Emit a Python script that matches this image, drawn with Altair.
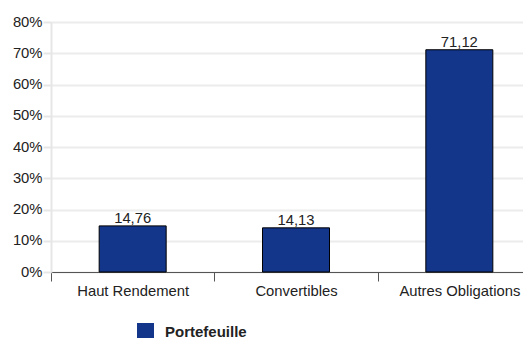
import altair as alt
import pandas as pd

categories = ["Haut Rendement", "Convertibles", "Autres Obligations"]
values = [14.76, 14.13, 71.12]
series = ["Portefeuille", "Portefeuille", "Portefeuille"]
y_ticks = [0, 10, 20, 30, 40, 50, 60, 70, 80]

df = pd.DataFrame({"cat": categories, "val": values, "serie": series})

FONT = "Liberation Sans"
FS = 14.8

x = alt.X("cat:N", sort=categories, title=None,
          scale=alt.Scale(paddingInner=0, paddingOuter=0, range=[0, 490]),
          axis=alt.Axis(labelAngle=0, tickBand="extent", domainColor="#555555",
                        tickColor="#555555", tickSize=9, labelPadding=2,
                        labelFontSize=FS, labelColor="#222222", labelFont=FONT,
                        grid=False))
y = alt.Y("val:Q", title=None,
          scale=alt.Scale(domain=[0, 80], nice=False),
          axis=alt.Axis(values=y_ticks, tickCount=20, labelOverlap=False,
                        labelExpr="datum.value + '%'",
                        gridColor="#ececec", gridWidth=2, domainColor="#e6e6e6",
                        domainWidth=2, tickColor="#e6e6e6", tickWidth=2, tickSize=8,
                        labelPadding=1, labelFontSize=FS, labelColor="#222222",
                        labelFont=FONT))

bars = alt.Chart(df).mark_bar(size=67, color="#13358a", stroke="#000000",
                              strokeWidth=1).encode(
    x=x, y=y,
    color=alt.Color("serie:N", scale=alt.Scale(range=["#13358a"]),
                    legend=alt.Legend(title=None, orient="none", legendX=86,
                                      legendY=301, symbolType="square",
                                      symbolSize=289, symbolStrokeWidth=0,
                                      labelFontSize=15, labelFontWeight="bold",
                                      labelFont=FONT, labelColor="#222222",
                                      labelOffset=11)))

labels = alt.Chart(df).transform_calculate(
    lab="replace(format(datum.val, '.2f'), '.', ',')"
).mark_text(baseline="alphabetic", dy=-3, fontSize=FS, font=FONT,
            color="#222222").encode(x=x, y=y, text="lab:N")

chart = (bars + labels).properties(
    width=472, height=250,
    autosize=alt.AutoSizeParams(type="none"),
    padding={"left": 43, "top": 14, "right": 0, "bottom": 68},
).configure_view(stroke=None)

chart.save("out.html", embed_options={"renderer": "svg", "actions": False})
